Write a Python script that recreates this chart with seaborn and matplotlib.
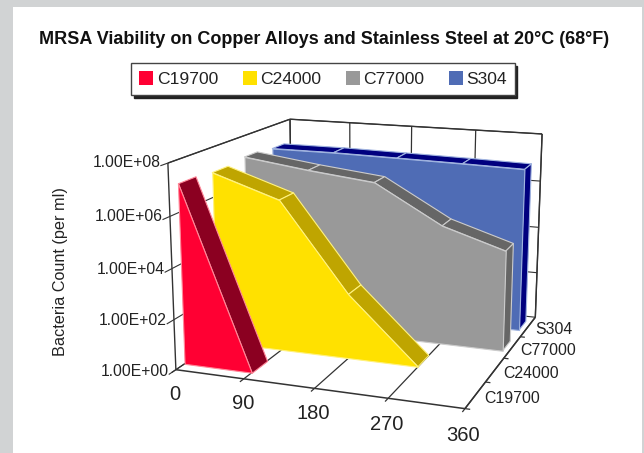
# MRSA viability on copper alloys and stainless steel - 3D area chart

import numpy as np
import matplotlib
matplotlib.use("Agg")
import matplotlib.pyplot as plt
from matplotlib.patches import Patch, Rectangle
from mpl_toolkits.mplot3d.art3d import Poly3DCollection
import seaborn as sns

# Step 1: values
minutes = [0, 90, 180, 270, 360]
area_minutes = [0, 90, 180, 270, 352]  # the last area point stops just short of the 360 tick
alloys = ["C19700", "C24000", "C77000", "S304"]
c19700 = [1.3e7, 1, np.nan, np.nan, np.nan]
c24000 = [1e7, 1.3e6, 400, 1, np.nan]
c77000 = [1.3e7, 5.6e6, 2.8e6, 8e4, 1.3e4]
s304 = [1e7, 1e7, 9e6, 8e6, 7e6]
count_ticks = [1e0, 1e2, 1e4, 1e6, 1e8]
count_labels = ["1.00E+00", "1.00E+02", "1.00E+04", "1.00E+06", "1.00E+08"]

series = [c19700, c24000, c77000, s304]
front_colors = ["#FF0033", "#FFE100", "#999999", "#4F6CB5"]
top_colors = ["#8B0021", "#BFA500", "#666666", "#00007F"]
edge_colors = ["#FF8899", "#FFF27F", "#CCCCCC", "#A0B4E0"]
depth_start = [0.25, 0.25, 0.3, 0.3]
depth_end = 0.75

# Step 2: theme and figure
sns.set_theme(style="white")
plt.rcParams["font.family"] = ["Liberation Sans", "DejaVu Sans"]
text_color = "#222222"
line_color = "#333333"

W, H = 644, 453
fig = plt.figure(figsize=(W / 100, H / 100), dpi=100, facecolor="#D1D3D4")
fig.patches.append(Rectangle((13 / W, 0), 629 / W, 446 / H, transform=fig.transFigure,
                             facecolor="white", edgecolor="none", figure=fig, zorder=-1))

ax = fig.add_axes([0, 0, 1, 1], projection="3d", computed_zorder=False)
ax.set_axis_off()
ax.set_xlim(0, 360)
ax.set_ylim(0, 4)
ax.set_zlim(0, 8)
ax.view_init(elev=14.53, azim=-70.01, roll=-0.098)
ax.set_proj_type("persp", focal_length=0.534)
ax.set_box_aspect((1.427, 1.401, 1))

# camera scale and offset in pixels, fitted to the box corners
scale, off_x, off_y = 2353.65, 367.04, 246.64
(x0, y0), (x1, y1) = ax.viewLim.get_points()
side_x, side_y = scale * (x1 - x0), scale * (y1 - y0)
ax.set_position([(off_x + scale * x0) / W, (H - (off_y - scale * y0)) / H, side_x / W, side_y / H])

# Step 3: walls, floor lines and ticks
zmax = np.log10(count_ticks[-1])
xmax = minutes[-1]
n = len(alloys)


def line(xs, ys, zs, width=0.9):
    ax.plot(xs, ys, zs, color=line_color, lw=width, zorder=1, solid_capstyle="butt")


for t in count_ticks:
    z = np.log10(t)
    line([0, 0], [-0.2, n], [z, z], 0.8)
    line([0, xmax], [n, n], [z, z], 0.8)
    ax.text(0, -0.2, z + 0.13, count_labels[count_ticks.index(t)], ha="right", va="center",
            fontsize=11.3, color=text_color)

line([0, 0], [0, 0], [0, zmax], 1.0)
line([0, 0], [n, n], [0, zmax], 1.0)
line([xmax, xmax], [n, n], [0, zmax], 1.0)
line([0, 0], [0, n], [zmax, zmax], 1.0)
line([0, xmax], [n, n], [zmax, zmax], 1.0)
line([0, xmax], [0, 0], [0, 0], 1.1)
line([xmax, xmax], [0, n], [0, 0], 1.1)

for m in minutes:
    line([m, m], [-0.12, n], [0, 0], 0.9)
    line([m, m], [n, n], [0, zmax], 0.9)
    ax.text(m, -0.05, -0.95, str(m), ha="center", va="center", fontsize=14.5, color=text_color)

for i, name in enumerate(alloys):
    line([xmax, xmax + 6], [i, i], [0, 0], 0.9)
    ax.text(xmax + 10, i + 0.5, -0.1, name, ha="left", va="center", fontsize=11.4, color=text_color)

# Step 4: one extruded ribbon per alloy, back to front
for i in reversed(range(n)):
    values = np.array(series[i], dtype=float)
    keep = ~np.isnan(values)
    xs = np.array(area_minutes, dtype=float)[keep]
    zs = np.log10(values[keep])
    y_f, y_b = i + depth_start[i], i + depth_end
    base = 10 + (n - i) * 10

    tops = [[(xs[k], y_f, zs[k]), (xs[k + 1], y_f, zs[k + 1]),
             (xs[k + 1], y_b, zs[k + 1]), (xs[k], y_b, zs[k])] for k in range(len(xs) - 1)]
    if zs[-1] > 0:
        tops.append([(xs[-1], y_f, 0), (xs[-1], y_f, zs[-1]), (xs[-1], y_b, zs[-1]), (xs[-1], y_b, 0)])
    front = [[(xs[0], y_f, 0)] + [(a, y_f, b) for a, b in zip(xs, zs)] + [(xs[-1], y_f, 0)]]

    ridge = Poly3DCollection(tops, facecolors=top_colors[i], edgecolors=edge_colors[i], linewidths=0.8)
    ridge.set_zorder(base)
    ax.add_collection3d(ridge, autolim=False)
    face = Poly3DCollection(front, facecolors=front_colors[i], edgecolors=edge_colors[i], linewidths=0.8)
    face.set_zorder(base + 1)
    ax.add_collection3d(face, autolim=False)

# Step 5: title, axis label and legend
fig.text(324 / W, 1 - 39 / H, "MRSA Viability on Copper Alloys and Stainless Steel at 20°C (68°F)",
         ha="center", va="center", fontsize=13, fontweight="bold", color="#111111")
fig.text(60 / W, 1 - 272 / H, "Bacteria Count (per ml)", rotation=90, ha="center", va="center",
         fontsize=11.7, color=text_color)

handles = [Patch(facecolor=c, edgecolor="none", label=name) for c, name in zip(front_colors, alloys)]
legend = fig.legend(handles=handles, ncol=4, loc="center", bbox_to_anchor=(323 / W, 1 - 79 / H),
                    fontsize=12.6, frameon=True, fancybox=False, framealpha=1, edgecolor="#444444",
                    shadow={"color": "#222222", "alpha": 1, "ox": 2, "oy": -2},
                    handlelength=0.8, handleheight=0.8, handletextpad=0.2, columnspacing=1.4,
                    borderpad=0.45, labelcolor=text_color)
legend.get_frame().set_linewidth(1.0)

fig.savefig("out.png", dpi=100, facecolor=fig.get_facecolor())
